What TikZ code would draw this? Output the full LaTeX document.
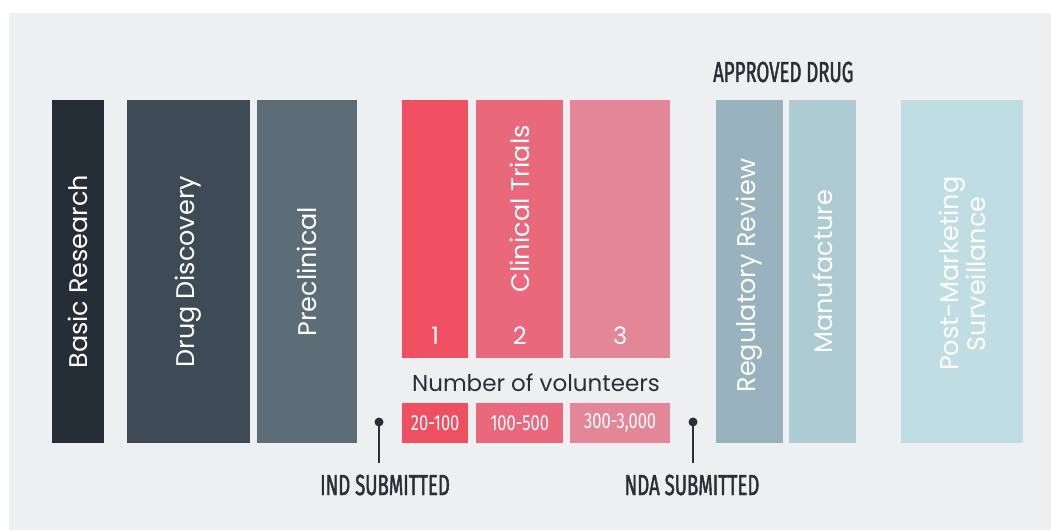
\documentclass[tikz,border=0pt]{standalone}
\usepackage{fontspec}
\setmainfont{Poppins}
\newfontfamily\condfont[FakeStretch=0.64, FakeBold=1.5]{Fira Sans}
\newfontfamily\numfont[FakeStretch=0.75]{Fira Sans}
\definecolor{pagebg}{HTML}{EEEFF0}
\definecolor{ink}{HTML}{2A2E35}
\definecolor{cBasic}{HTML}{252D37}
\definecolor{cDisc}{HTML}{3E4B56}
\definecolor{cPre}{HTML}{5D6D77}
\definecolor{cPhA}{HTML}{EE4F61}
\definecolor{cPhB}{HTML}{E9687B}
\definecolor{cPhC}{HTML}{E38698}
\definecolor{cReg}{HTML}{98B3BE}
\definecolor{cMan}{HTML}{AECAD2}
\definecolor{cPost}{HTML}{C0DDE4}
\tikzset{
  stage/.style={draw=none, inner sep=0pt, anchor=north west, minimum height=343pt},
  phase/.style={draw=none, inner sep=0pt, anchor=north west, minimum height=258pt},
  count/.style={draw=none, inner sep=0pt, anchor=north west, minimum height=40pt},
  counttext/.style={text=white, inner sep=0pt, font=\numfont\fontsize{22}{22}\selectfont},
  stagetext/.style={rotate=90, text=white, inner sep=0pt, align=center,
    font=\fontsize{25.5}{26}\selectfont},
  phasenum/.style={text=white, inner sep=0pt, font=\fontsize{24}{24}\selectfont},
  milestone/.style={text=ink, inner sep=0pt, font=\condfont\fontsize{29}{29}\selectfont},
  stem/.style={draw=ink, line width=2.2pt},
}
\begin{document}
\begin{tikzpicture}[x=1pt, y=-1pt]
\useasboundingbox (0,0) rectangle (1051,531);
\fill[white] (0,0) rectangle (1051,531);
\fill[pagebg] (9,13) rectangle (1051,530);

% research and preclinical stages
\node[stage, fill=cBasic, minimum width=52pt]  (basic) at (52,100) {};
\node[stage, fill=cDisc,  minimum width=123pt] (disc)  at (127,100) {};
\node[stage, fill=cPre,   minimum width=100pt] (pre)   at (257,100) {};
\node[stagetext] at (basic.center) {Basic Research};
\node[stagetext] at (disc.center) {Drug Discovery};
\node[stagetext] at (pre.center) {Preclinical};

% clinical trial phases
\node[phase, fill=cPhA, minimum width=66pt]  (ph1) at (402,100) {};
\node[phase, fill=cPhB, minimum width=87pt]  (ph2) at (476,100) {};
\node[phase, fill=cPhC, minimum width=100pt] (ph3) at (570,100) {};
\node[stagetext, anchor=east] at ([yshift=-25pt]ph2.north) {Clinical Trials};
\node[phasenum] at ([yshift=23pt]ph1.south) {1};
\node[phasenum] at ([yshift=23pt]ph2.south) {2};
\node[phasenum] at ([yshift=23pt]ph3.south) {3};
\node[text=ink, inner sep=0pt, font=\fontsize{23}{23}\selectfont] (vol) at (536,383) {Number of volunteers};

% volunteers per phase
\node[count, fill=cPhA, minimum width=66pt]  (n1) at (402,403) {};
\node[count, fill=cPhB, minimum width=87pt]  (n2) at (476,403) {};
\node[count, fill=cPhC, minimum width=100pt] (n3) at (570,403) {};
\node[counttext] at (n1.center) {20-100};
\node[counttext] at (n2.center) {100-500};
\node[counttext] at (n3.center) {300-3,000};

% approval and after
\node[stage, fill=cReg,  minimum width=67pt]  (reg)  at (716,100) {};
\node[stage, fill=cMan,  minimum width=67pt]  (man)  at (789,100) {};
\node[stage, fill=cPost, minimum width=122pt] (post) at (901,100) {};
\node[stagetext] at ([yshift=-4pt]reg.center) {Regulatory Review};
\node[stagetext] at (man.center) {Manufacture};
\node[stagetext, font=\fontsize{25.5}{22}\selectfont] at ([yshift=-2pt]post.center) {Post-Marketing\\Surveillance};
\node[milestone, anchor=west] (approved) at (713,72) {APPROVED DRUG};

% submission milestones
\node[milestone] (ind) at (385,485) {IND SUBMITTED};
\node[milestone] (nda) at (692,485) {NDA SUBMITTED};
\coordinate (inddot) at (379,422);
\coordinate (ndadot) at (693,422);
\draw[stem] (inddot) -- (inddot |- 0,463);
\draw[stem] (ndadot) -- (ndadot |- 0,463);
\fill[ink] (inddot) circle (4.5pt);
\fill[ink] (ndadot) circle (4.5pt);
\end{tikzpicture}
\end{document}
